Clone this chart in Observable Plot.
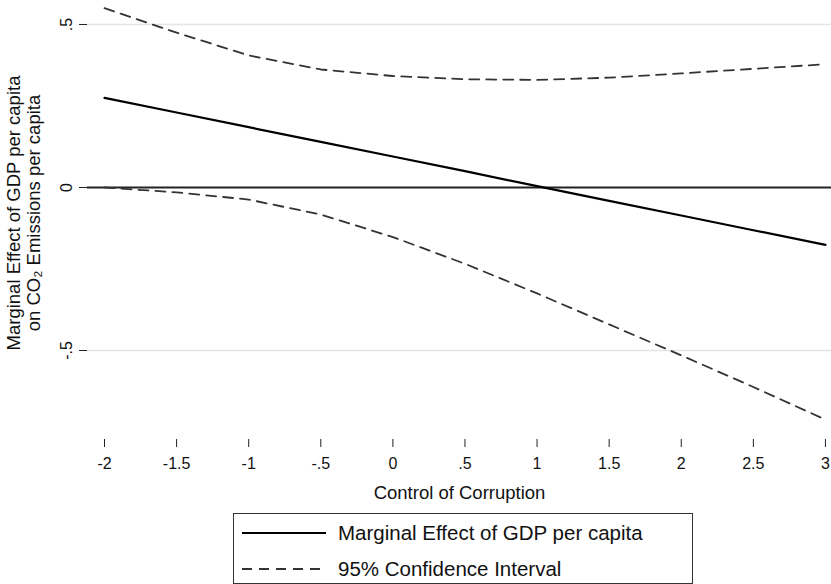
<!DOCTYPE html>
<html>
<head>
<meta charset="utf-8">
<script src="https://cdn.jsdelivr.net/npm/d3@7"></script>
<script src="https://cdn.jsdelivr.net/npm/@observablehq/plot@0.6"></script>
<style>
  body { margin: 0; background: #fff; font-family: "Liberation Sans", Arial, sans-serif; }
  #wrap { position: relative; width: 831px; height: 584px; overflow: hidden; }
  #legend { position: absolute; left: 233px; top: 513px; width: 460px; height: 71px; box-sizing: border-box;
            border: 1px solid #333; background: #fff; }
  .row { position: absolute; left: 8px; height: 30px; display: flex; align-items: center; }
  .row span { font-size: 20.5px; color: #111; margin-left: 12px; white-space: nowrap; }
</style>
</head>
<body>
<div id="wrap"></div>
<script>
// ---- data ----
const corruption = [-2, -1.5, -1, -0.5, 0, 0.5, 1, 1.5, 2, 2.5, 3];
const effect     = [0.275, 0.230, 0.185, 0.140, 0.095, 0.050, 0.004, -0.041, -0.086, -0.131, -0.176];
const upperCI    = [0.550, 0.475, 0.405, 0.362, 0.342, 0.332, 0.330, 0.337, 0.350, 0.364, 0.378];
const lowerCI    = [0.000, -0.015, -0.037, -0.083, -0.152, -0.234, -0.325, -0.420, -0.515, -0.612, -0.712];
const xTicks = [-2, -1.5, -1, -0.5, 0, 0.5, 1, 1.5, 2, 2.5, 3];
const yTicks = [-0.5, 0, 0.5];
const gridLines = [-0.5, 0.5];
const zeroLine = [0];
const xTitle = "Control of Corruption";
const yTitle = "Marginal Effect of GDP per capita\non CO\u2082 Emissions per capita";
const legendItems = [
  {label: "Marginal Effect of GDP per capita", dash: null},
  {label: "95% Confidence Interval", dash: "10,7"}
];

const data = corruption.map((x, i) => ({x, effect: effect[i], upper: upperCI[i], lower: lowerCI[i]}));
const fmt = d => d === 0 ? "0" : String(d).replace(/^(-?)0\./, "$1.");

const W = 831, H = 510, bottom = 439;
const font = "Liberation Sans, Arial, sans-serif";

const chart = Plot.plot({
  width: W, height: H,
  marginLeft: 87, marginRight: 0, marginTop: 0, marginBottom: H - bottom,
  x: {domain: [-2.118, 3.042]},
  y: {domain: [-0.773, 0.5736]},
  style: {fontFamily: font, fontSize: "16px", color: "#111", background: "#fff", overflow: "visible"},
  marks: [
    Plot.ruleY(gridLines, {stroke: "#e4e4e4", strokeWidth: 1.5}),
    Plot.ruleY(zeroLine, {stroke: "#222", strokeWidth: 2}),
    Plot.line(data, {x: "x", y: "upper", stroke: "#333", strokeWidth: 1.8, strokeDasharray: "10,7"}),
    Plot.line(data, {x: "x", y: "lower", stroke: "#333", strokeWidth: 1.8, strokeDasharray: "10,7"}),
    Plot.line(data, {x: "x", y: "effect", stroke: "#000", strokeWidth: 2.2}),
    Plot.axisX({ticks: xTicks, tickFormat: fmt, tickSize: 8, tickPadding: 10, fontSize: 16, label: null, stroke: "#222"}),
    Plot.axisX({ticks: [], tickSize: 0, label: xTitle, labelAnchor: "center", labelArrow: "none", labelOffset: 59, fontSize: 18.5, dx: 3}),
    Plot.axisY({ticks: yTicks, tickFormat: fmt, tickSize: 8, tickPadding: 8, tickRotate: -90, fontSize: 16, label: null, stroke: "#222"}),
    Plot.text([yTitle], {frameAnchor: "left", text: d => d, rotate: -90, textAnchor: "middle", lineAnchor: "middle",
                         fontSize: 18.5, lineHeight: 1.08, fill: "#111", dx: -64, dy: -7})
  ]
});

const wrap = document.getElementById("wrap");
wrap.appendChild(chart);

// legend
const legend = document.createElement("div");
legend.id = "legend";
legendItems.forEach((it, i) => {
  const row = document.createElement("div");
  row.className = "row";
  row.style.top = (4 + i * 36) + "px";
  const svgNS = "http://www.w3.org/2000/svg";
  const svg = document.createElementNS(svgNS, "svg");
  svg.setAttribute("width", 84); svg.setAttribute("height", 10);
  const ln = document.createElementNS(svgNS, "line");
  ln.setAttribute("x1", 0); ln.setAttribute("x2", 84); ln.setAttribute("y1", 5); ln.setAttribute("y2", 5);
  ln.setAttribute("stroke", it.dash ? "#333" : "#000");
  ln.setAttribute("stroke-width", it.dash ? 1.8 : 2.2);
  if (it.dash) ln.setAttribute("stroke-dasharray", it.dash);
  svg.appendChild(ln);
  row.appendChild(svg);
  const sp = document.createElement("span");
  sp.textContent = it.label;
  row.appendChild(sp);
  legend.appendChild(row);
});
wrap.appendChild(legend);
</script>
</body>
</html>
